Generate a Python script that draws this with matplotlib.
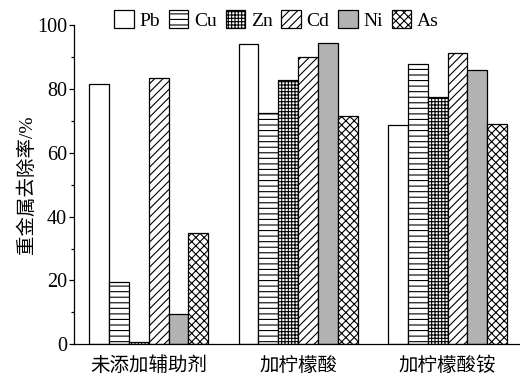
import matplotlib
matplotlib.use('Agg')
import matplotlib.pyplot as plt
import numpy as np

plt.rcParams['font.family'] = ['Liberation Serif', 'Noto Sans CJK SC']
plt.rcParams['hatch.linewidth'] = 0.8

groups = ['未添加辅助剂', '加柠檬酸', '加柠檬酸铵']
metals = ['Pb', 'Cu', 'Zn', 'Cd', 'Ni', 'As']

# removal rate (%) per metal, one value per group
pb = [81.4, 94.0, 68.8]
cu = [19.4, 72.5, 87.9]
zn = [0.8, 82.8, 77.5]
cd = [83.3, 90.0, 91.1]
ni = [9.4, 94.4, 86.0]
as_ = [34.8, 71.5, 69.1]
values = [pb, cu, zn, cd, ni, as_]

hatches = ['', '---', '+++++', '////', '', 'xxxx']
faces = ['white', 'white', 'white', 'white', '#b3b3b3', 'white']

fig = plt.figure(figsize=(5.2, 3.79), dpi=100)
ax = fig.add_axes([0.1423, 0.0916, 0.8577, 0.8424])

x = np.arange(len(groups))
w = 0.133
for i, (name, vals) in enumerate(zip(metals, values)):
    ax.bar(x + (i - 2.5) * w, vals, w, facecolor=faces[i], edgecolor='black',
           hatch=hatches[i], linewidth=0.9, label=name)

ax.set_xlim(-0.5, 2.485)
ax.set_ylim(0, 100)
ax.set_yticks(range(0, 101, 20))
ax.set_yticks(range(10, 100, 20), minor=True)
ax.set_xticks(x)
ax.set_xticklabels(groups, fontsize=14)
ax.tick_params(axis='x', length=0, pad=9)
ax.tick_params(axis='y', which='major', length=3.5, width=0.9, labelsize=14.5, pad=1.5)
ax.tick_params(axis='y', which='minor', length=2.5, width=0.9)
ax.spines['top'].set_visible(False)
ax.spines['right'].set_visible(False)
ax.spines['left'].set_linewidth(0.9)
ax.spines['bottom'].set_linewidth(0.9)
ax.set_ylabel('重金属去除率/%', fontsize=14, labelpad=1)

fig.legend(loc='center', bbox_to_anchor=(0.532, 0.947), ncol=6, frameon=False,
           fontsize=14, handlelength=1.0, handleheight=1.0, handletextpad=0.3,
           columnspacing=0.45, borderaxespad=0)

fig.savefig('out.png', dpi=100)
